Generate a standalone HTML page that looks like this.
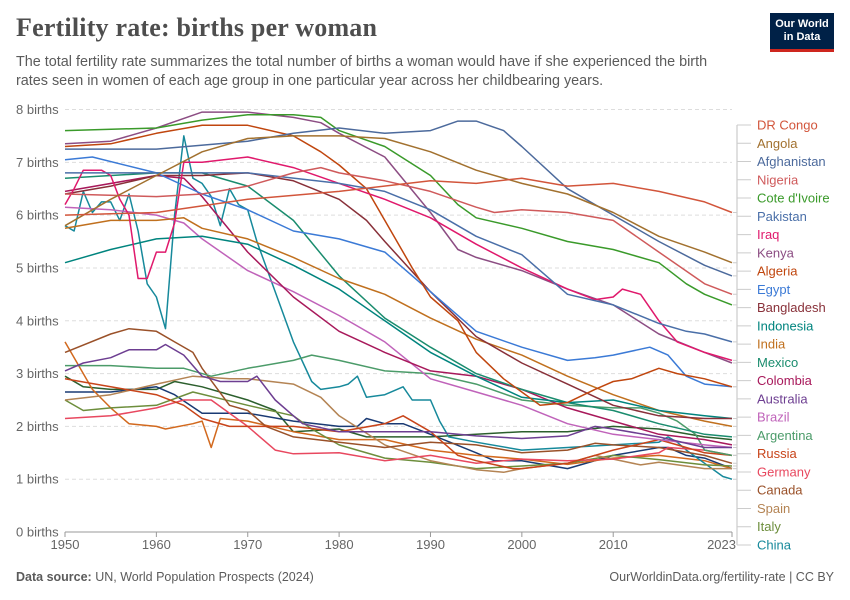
<!DOCTYPE html>
<html><head><meta charset="utf-8"><style>
body{margin:0;background:#fff;font-family:"Liberation Sans",sans-serif;}
#wrap{position:relative;width:850px;height:600px;overflow:hidden;}
h1{position:absolute;left:16px;top:13px;margin:0;font-family:"Liberation Serif",serif;font-weight:bold;font-size:26px;color:#4e4e4e;letter-spacing:0.2px}
.sub{position:absolute;left:16px;top:53px;width:722px;font-size:14.4px;line-height:19px;color:#5b5b5b}
.logo{position:absolute;left:770px;top:13px;width:64px;height:39px;background:#002147;color:#fff;font-size:11px;font-weight:bold;text-align:center;line-height:13px;padding-top:5px;box-sizing:border-box;border-bottom:3px solid #ce261e}
.foot{position:absolute;top:570px;font-size:12.5px;color:#5b5b5b}
</style></head><body><div id="wrap">
<h1>Fertility rate: births per woman</h1>
<div class="sub">The total fertility rate summarizes the total number of births a woman would have if she experienced the birth rates seen in women of each age group in one particular year across her childbearing years.</div>
<div class="logo">Our World<br>in Data</div>
<div class="foot" style="left:16px"><b>Data source:</b> UN, World Population Prospects (2024)</div>
<div class="foot" style="right:16px">OurWorldinData.org/fertility-rate | CC BY</div>
<svg id="chart" width="850" height="600" style="position:absolute;left:0;top:0"></svg>
</div>
<script>
const yTicks=[0,1,2,3,4,5,6,7,8];
const xTicks=[1950,1960,1970,1980,1990,2000,2010,2023];
const names=["DR Congo","Angola","Afghanistan","Nigeria","Cote d'Ivoire","Pakistan","Iraq","Kenya","Algeria","Egypt","Bangladesh","Indonesia","India","Mexico","Colombia","Australia","Brazil","Argentina","Russia","Germany","Canada","Spain","Italy","China","Japan","Ukraine","France"];
const colors=["#d2553b","#a2712f","#4c6a9c","#cf5a5b","#3a9a2a","#4a6fa8","#e0196c","#8c4d83","#c0460e","#3b7ad6","#883039","#00847e","#c0701e","#1a8c6e","#a8195b","#6d3e91","#c063ba","#4b9b69","#c8441a","#e8485f","#9a5129","#b48454","#6d8e3c","#16899b","#d2691e","#1a3a73","#2c5f2d"];
const yrsDRC=[1950,1960,1970,1980,1990,1995,2000,2005,2010,2015,2020,2023];
const valDRC=[6.0,6.05,6.3,6.45,6.65,6.6,6.7,6.55,6.6,6.45,6.25,6.05];
const yrsAngola=[1950,1955,1960,1965,1970,1975,1980,1985,1990,1995,2000,2005,2010,2015,2020,2023];
const valAngola=[5.8,6.3,6.75,7.2,7.45,7.5,7.5,7.45,7.2,6.85,6.6,6.4,6.05,5.6,5.3,5.1];
const yrsAfg=[1950,1960,1970,1975,1980,1985,1990,1993,1995,1998,2000,2005,2010,2015,2020,2023];
const valAfg=[7.25,7.25,7.4,7.55,7.65,7.55,7.6,7.78,7.78,7.6,7.3,6.5,6.0,5.5,5.05,4.85];
const yrsNig=[1950,1960,1965,1970,1975,1978,1980,1985,1990,1995,1997,2000,2005,2010,2015,2020,2023];
const valNig=[6.4,6.35,6.4,6.55,6.8,6.9,6.8,6.65,6.45,6.15,6.05,6.1,6.05,5.9,5.3,4.7,4.5];
const yrsCiv=[1950,1960,1965,1970,1975,1978,1980,1985,1990,1993,1995,2000,2005,2010,2015,2018,2020,2023];
const valCiv=[7.6,7.65,7.8,7.9,7.9,7.85,7.6,7.3,6.75,6.2,5.95,5.75,5.5,5.35,5.1,4.7,4.5,4.3];
const yrsPak=[1950,1970,1980,1985,1990,1995,2000,2005,2010,2015,2018,2020,2023];
const valPak=[6.8,6.8,6.6,6.45,6.1,5.6,5.25,4.5,4.3,3.95,3.8,3.75,3.6];
const yrsIraq=[1950,1951,1952,1954,1955,1956,1957,1958,1959,1960,1961,1962,1963,1965,1970,1975,1980,1985,1990,1995,2000,2005,2008,2010,2011,2013,2015,2017,2020,2023];
const valIraq=[6.2,6.5,6.85,6.85,6.75,6.3,6.0,4.8,4.8,5.3,5.3,5.85,7.0,7.0,7.1,6.9,6.6,6.3,5.95,5.45,5.0,4.6,4.4,4.45,4.6,4.5,4.0,3.6,3.4,3.25];
const yrsKen=[1950,1955,1960,1965,1970,1975,1978,1980,1985,1990,1993,1995,2000,2005,2010,2015,2020,2023];
const valKen=[7.35,7.4,7.65,7.95,7.95,7.85,7.75,7.55,7.1,6.05,5.35,5.2,4.95,4.6,4.3,3.75,3.4,3.2];
const yrsAlg=[1950,1955,1960,1965,1970,1975,1978,1980,1983,1985,1988,1990,1993,1995,1998,2000,2002,2005,2008,2010,2012,2015,2017,2020,2023];
const valAlg=[7.3,7.35,7.55,7.7,7.7,7.5,7.2,6.95,6.5,5.9,5.0,4.45,4.0,3.4,2.9,2.65,2.4,2.45,2.7,2.85,2.9,3.1,3.0,2.9,2.75];
const yrsEgy=[1950,1953,1960,1965,1970,1975,1980,1985,1990,1995,2000,2005,2008,2010,2014,2016,2018,2020,2023];
const valEgy=[7.05,7.1,6.8,6.4,6.1,5.7,5.55,5.3,4.55,3.8,3.5,3.25,3.3,3.35,3.5,3.35,2.95,2.8,2.75];
const yrsBgd=[1950,1955,1960,1965,1970,1975,1980,1983,1985,1990,1995,2000,2005,2010,2015,2020,2023];
const valBgd=[6.4,6.55,6.75,6.75,6.8,6.65,6.3,5.9,5.5,4.55,3.7,3.2,2.8,2.4,2.2,2.15,2.15];
const yrsIdn=[1950,1955,1960,1965,1970,1975,1980,1985,1990,1995,2000,2005,2010,2015,2020,2023];
const valIdn=[5.1,5.35,5.55,5.6,5.45,5.05,4.6,4.0,3.4,2.95,2.55,2.45,2.5,2.3,2.2,2.15];
const yrsInd=[1950,1955,1960,1963,1965,1970,1975,1980,1985,1990,1995,2000,2005,2010,2015,2020,2023];
const valInd=[5.75,5.9,5.9,5.95,5.75,5.55,5.2,4.8,4.5,4.05,3.65,3.35,2.95,2.6,2.3,2.1,2.0];
const yrsMex=[1950,1960,1965,1970,1975,1980,1985,1990,1995,2000,2005,2010,2015,2020,2023];
const valMex=[6.7,6.8,6.8,6.55,5.9,4.85,4.05,3.5,3.0,2.7,2.45,2.3,2.05,1.85,1.8];
const yrsCol=[1950,1960,1963,1965,1970,1975,1980,1985,1990,1995,2000,2005,2010,2015,2020,2023];
const valCol=[6.45,6.75,6.7,6.35,5.3,4.45,3.8,3.4,3.05,2.95,2.7,2.35,2.1,1.85,1.75,1.65];
const yrsAus=[1950,1952,1955,1957,1960,1961,1963,1965,1967,1970,1971,1973,1975,1976,1980,1985,1990,1995,2000,2005,2008,2010,2015,2020,2023];
const valAus=[3.05,3.2,3.3,3.45,3.45,3.55,3.35,2.95,2.85,2.85,2.95,2.5,2.2,2.05,1.9,1.9,1.9,1.82,1.77,1.82,2.0,1.95,1.8,1.6,1.6];
const yrsBra=[1950,1955,1960,1963,1965,1970,1975,1980,1985,1990,1995,2000,2005,2010,2015,2020,2023];
const valBra=[6.15,6.1,6.0,5.85,5.55,4.95,4.55,4.1,3.6,2.9,2.65,2.4,2.05,1.85,1.75,1.65,1.6];
const yrsArg=[1950,1955,1960,1963,1966,1970,1975,1977,1980,1985,1990,1995,2000,2005,2010,2013,2015,2017,2019,2020,2023];
const valArg=[3.15,3.15,3.1,3.1,2.95,3.1,3.25,3.35,3.25,3.05,3.0,2.8,2.5,2.4,2.35,2.35,2.25,2.1,1.85,1.55,1.45];
const yrsRus=[1950,1955,1960,1963,1965,1968,1970,1975,1980,1985,1987,1990,1993,1995,1999,2000,2005,2010,2015,2017,2020,2023];
const valRus=[2.9,2.75,2.6,2.4,2.15,2.0,2.0,2.0,1.9,2.05,2.2,1.9,1.45,1.35,1.2,1.2,1.3,1.55,1.75,1.65,1.5,1.45];
const yrsGer=[1950,1955,1960,1963,1966,1970,1973,1975,1980,1985,1990,1995,2000,2005,2010,2015,2016,2020,2023];
const valGer=[2.15,2.2,2.35,2.5,2.5,2.0,1.55,1.48,1.5,1.35,1.45,1.3,1.38,1.35,1.38,1.5,1.6,1.55,1.45];
const yrsCan=[1950,1955,1957,1960,1962,1964,1965,1968,1970,1972,1975,1980,1985,1990,1995,2000,2005,2008,2010,2015,2020,2023];
const valCan=[3.4,3.75,3.85,3.8,3.6,3.4,3.1,2.4,2.3,2.0,1.8,1.7,1.6,1.7,1.65,1.5,1.55,1.68,1.65,1.6,1.45,1.3];
const yrsEsp=[1950,1955,1960,1964,1968,1970,1975,1978,1980,1985,1990,1995,1998,2000,2005,2008,2010,2013,2015,2020,2023];
const valEsp=[2.5,2.6,2.8,2.95,2.9,2.9,2.8,2.55,2.2,1.65,1.35,1.18,1.13,1.2,1.3,1.45,1.38,1.27,1.32,1.2,1.2];
const yrsIta=[1950,1952,1955,1960,1964,1970,1975,1977,1980,1985,1990,1995,2000,2005,2010,2015,2020,2023];
const valIta=[2.5,2.3,2.35,2.4,2.65,2.4,2.2,1.95,1.65,1.4,1.32,1.2,1.25,1.3,1.45,1.37,1.27,1.25];
const yrsChn=[1950,1951,1952,1953,1954,1955,1956,1957,1958,1959,1960,1961,1962,1963,1964,1965,1966,1967,1968,1969,1970,1971,1973,1975,1977,1978,1980,1981,1982,1983,1985,1987,1988,1990,1991,1992,1995,2000,2005,2010,2015,2016,2017,2018,2020,2022,2023];
const valChn=[5.8,5.7,6.45,6.05,6.25,6.25,5.9,6.4,5.7,4.7,4.45,3.85,6.0,7.5,6.7,6.6,6.35,5.8,6.5,6.2,6.1,5.5,4.55,3.6,2.85,2.7,2.75,2.8,2.95,2.55,2.6,2.75,2.5,2.5,2.1,1.8,1.7,1.55,1.6,1.65,1.7,1.8,1.7,1.55,1.3,1.05,1.0];
const yrsJpn=[1950,1953,1955,1957,1960,1961,1964,1965,1966,1967,1970,1975,1980,1985,1990,1995,2000,2005,2010,2015,2020,2023];
const valJpn=[3.6,2.7,2.35,2.05,2.0,1.95,2.05,2.1,1.6,2.15,2.1,1.9,1.75,1.75,1.55,1.45,1.38,1.28,1.4,1.45,1.35,1.2];
const yrsUkr=[1950,1955,1960,1962,1965,1970,1975,1980,1982,1983,1985,1987,1990,1995,1997,2000,2005,2010,2015,2016,2018,2020,2023];
const valUkr=[2.65,2.65,2.75,2.6,2.25,2.25,2.1,2.0,2.0,2.15,2.05,2.05,1.85,1.5,1.35,1.35,1.2,1.45,1.6,1.6,1.45,1.4,1.2];
const yrsFra=[1950,1952,1955,1960,1962,1965,1970,1973,1975,1980,1983,1990,2000,2005,2010,2015,2020,2023];
const valFra=[2.95,2.75,2.7,2.7,2.85,2.75,2.5,2.3,1.9,1.95,1.8,1.8,1.9,1.9,2.0,1.95,1.8,1.75];
const seriesYears=[yrsDRC,yrsAngola,yrsAfg,yrsNig,yrsCiv,yrsPak,yrsIraq,yrsKen,yrsAlg,yrsEgy,yrsBgd,yrsIdn,yrsInd,yrsMex,yrsCol,yrsAus,yrsBra,yrsArg,yrsRus,yrsGer,yrsCan,yrsEsp,yrsIta,yrsChn,yrsJpn,yrsUkr,yrsFra];
const seriesVals=[valDRC,valAngola,valAfg,valNig,valCiv,valPak,valIraq,valKen,valAlg,valEgy,valBgd,valIdn,valInd,valMex,valCol,valAus,valBra,valArg,valRus,valGer,valCan,valEsp,valIta,valChn,valJpn,valUkr,valFra];
const legendCount=24;

const NS="http://www.w3.org/2000/svg";
const svg=document.getElementById('chart');
const X0=65,X1=732,Y0=532,Y8=109.5;
function xs(y){return X0+(y-1950)/(2023-1950)*(X1-X0);}
function ys(v){return Y0-v/8*(Y0-Y8);}
function mk(t,a){const e=document.createElementNS(NS,t);for(const k in a)e.setAttribute(k,a[k]);svg.appendChild(e);return e;}
yTicks.forEach(v=>{
  if(v>0){const g=mk('line',{x1:X0,x2:X1,y1:ys(v),y2:ys(v),stroke:'#ddd','stroke-dasharray':'4,3'});
  
  }
  const t=mk('text',{x:16,y:ys(v)+4.5,'font-size':'13','fill':'#666','font-family':'Liberation Sans'});
  t.textContent=v+' births';
  
  
});
const ax=mk('line',{x1:X0,x2:X1,y1:Y0,y2:Y0,stroke:'#999'});


xTicks.forEach(y=>{
  const tk=mk('line',{x1:xs(y),x2:xs(y),y1:Y0,y2:Y0+5,stroke:'#999'});
  
  
  const t=mk('text',{x:xs(y),y:Y0+17,'font-size':'13','fill':'#666','text-anchor':y===2023?'end':'middle','font-family':'Liberation Sans'});
  if(y===2023)t.setAttribute('x',xs(y)+4);
  t.textContent=y;
  
  
});
for(let i=seriesVals.length-1;i>=0;i--){
  const yr=seriesYears[i],vals=seriesVals[i];
  const d=vals.map((v,j)=>(j?'L':'M')+xs(yr[j]).toFixed(1)+','+ys(v).toFixed(1)).join('');
  const p=mk('path',{d:d,fill:'none',stroke:colors[i],'stroke-width':'1.5','stroke-linejoin':'round'});
  
  
}
const br=mk('line',{x1:737,x2:737,y1:125,y2:545,stroke:'#ccc','stroke-width':'1.2'});


for(let i=0;i<legendCount;i++){
  const ly=125+i*(545-125)/(legendCount-1);
  const endV=seriesVals[i][seriesVals[i].length-1];
  const c=mk('path',{d:'M733,'+ys(endV).toFixed(1)+'L737,'+ys(endV).toFixed(1)+'M737,'+ly+'L751,'+ly,fill:'none',stroke:'#ccc','stroke-width':'1'});
  
  
  const t=mk('text',{x:757,y:ly+4.5,'font-size':'13','fill':colors[i],'font-family':'Liberation Sans'});
  t.textContent=names[i];
  
  
}
</script></body></html>
